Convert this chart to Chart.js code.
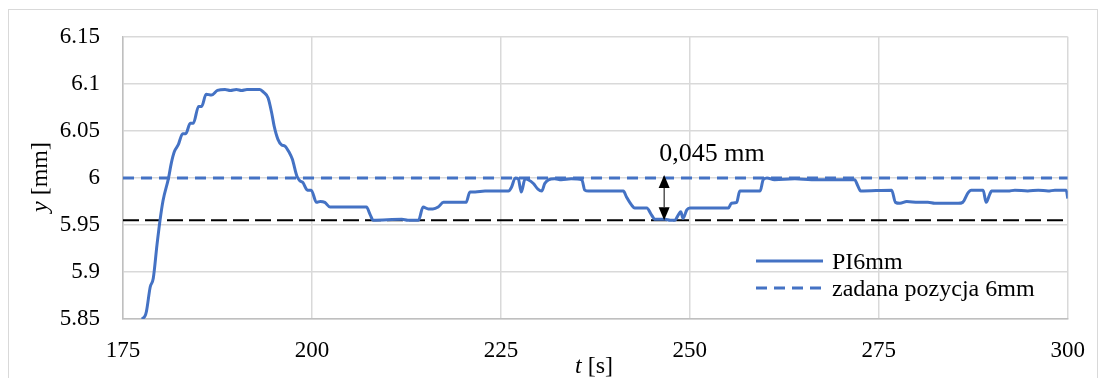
<!DOCTYPE html>
<html>
<head>
<meta charset="utf-8">
<script src="https://cdn.jsdelivr.net/npm/chart.js@4/dist/chart.umd.min.js"></script>
<style>
  html, body { margin: 0; padding: 0; background: #fff; }
</style>
</head>
<body>
<canvas id="chart" width="1103" height="378"></canvas>
<script>
// czas [s] i położenie [mm] regulatora PI
const tValues = [
  177.5, 177.9, 178.1, 178.6, 179.0, 179.5, 179.9, 180.3, 181.0, 181.4,
  181.8, 182.3, 182.9, 183.3, 183.9, 184.3, 185.0, 185.4, 186.0, 186.7,
  187.5, 188.5, 189.2, 190.0, 190.7, 191.4, 193.1, 193.6, 194.2, 194.7,
  195.0, 195.5, 196.0, 196.4, 197.0, 197.4, 198.0, 198.4, 198.8, 199.4,
  199.9, 200.6, 201.1, 201.7, 202.4, 207.2, 207.7, 208.1, 211.9, 212.7,
  214.1, 214.7, 215.4, 216.0, 216.7, 217.4, 220.4, 220.9, 221.6, 222.9,
  225.5, 226.0, 226.4, 226.9, 227.3, 227.7, 228.2, 228.6, 229.3, 229.9,
  230.4, 230.8, 231.3, 232.1, 233.0, 234.3, 235.7, 236.1, 236.6, 239.2,
  241.2, 241.6, 242.3, 242.7, 244.3, 244.9, 245.4, 246.7, 247.4, 248.0,
  248.5, 248.8, 249.1, 249.6, 250.0, 255.1, 255.5, 256.2, 256.6, 259.3,
  259.7, 260.2, 261.2, 263.9, 266.1, 268.7, 271.8, 272.2, 272.6, 276.7,
  277.2, 277.8, 278.7, 280.2, 281.5, 282.4, 285.5, 286.1, 286.8, 287.2,
  288.8, 289.2, 289.7, 289.9, 292.1, 293.0, 294.7, 296.1, 297.4, 298.3,
  299.8, 300.0
];
const pi6mm = [
  5.850, 5.853, 5.858, 5.884, 5.893, 5.929, 5.955, 5.976, 5.999, 6.016,
  6.028, 6.035, 6.047, 6.047, 6.058, 6.058, 6.076, 6.076, 6.089, 6.088,
  6.093, 6.094, 6.093, 6.094, 6.093, 6.094, 6.094, 6.091, 6.085, 6.068,
  6.055, 6.041, 6.035, 6.034, 6.027, 6.020, 6.002, 5.997, 5.995, 5.987,
  5.987, 5.974, 5.975, 5.974, 5.969, 5.969, 5.961, 5.955, 5.956, 5.955,
  5.955, 5.969, 5.967, 5.967, 5.969, 5.974, 5.974, 5.985, 5.985, 5.986,
  5.986, 5.986, 5.990, 6.000, 5.999, 5.985, 5.999, 5.998, 5.994, 5.988,
  5.986, 5.994, 5.998, 5.999, 5.998, 5.999, 5.998, 5.987, 5.986, 5.986,
  5.986, 5.980, 5.971, 5.968, 5.968, 5.961, 5.956, 5.956, 5.955, 5.955,
  5.961, 5.964, 5.957, 5.966, 5.968, 5.968, 5.973, 5.974, 5.986, 5.986,
  5.998, 6.000, 5.998, 5.999, 5.998, 5.998, 5.998, 5.992, 5.986, 5.987,
  5.974, 5.973, 5.975, 5.974, 5.974, 5.973, 5.973, 5.974, 5.984, 5.987,
  5.987, 5.974, 5.983, 5.986, 5.986, 5.987, 5.986, 5.987, 5.986, 5.987,
  5.987, 5.978
];

const setpoint = 6.0;        // zadana pozycja [mm]
const lowerLevel = 5.955;    // najniższe położenie po ustaleniu
const overshootAt = 246.6;   // gdzie zaznaczona różnica
const overshootLabel = '0,045 mm';

const xTicks = [175, 200, 225, 250, 275, 300];
const yTicks = [5.85, 5.9, 5.95, 6.0, 6.05, 6.1, 6.15];

const FONT = 'Liberation Serif';
const BLUE = '#4472c4';

const points = tValues.map((t, i) => ({ x: t, y: pi6mm[i] }));

const decor = {
  id: 'decor',
  beforeDraw(chart) {
    const ctx = chart.ctx;
    ctx.save();
    ctx.fillStyle = '#fff';
    ctx.fillRect(0, 0, chart.width, chart.height);
    ctx.strokeStyle = '#d9d9d9';
    ctx.lineWidth = 1;
    ctx.strokeRect(8.5, 9.5, 1089, 400);
    ctx.restore();
  },
  afterDatasetsDraw(chart) {
    const ctx = chart.ctx;
    const xs = chart.scales.x, ys = chart.scales.y;
    const ax = xs.getPixelForValue(overshootAt);
    const top = ys.getPixelForValue(setpoint) - 3;
    const bot = ys.getPixelForValue(lowerLevel);
    const hw = 5.5, hh = 13;
    ctx.save();
    ctx.strokeStyle = '#000';
    ctx.fillStyle = '#000';
    ctx.lineWidth = 1;
    ctx.beginPath();
    ctx.moveTo(ax, top + hh);
    ctx.lineTo(ax, bot - hh);
    ctx.stroke();
    ctx.beginPath();
    ctx.moveTo(ax, top);
    ctx.lineTo(ax - hw, top + hh);
    ctx.lineTo(ax + hw, top + hh);
    ctx.closePath();
    ctx.fill();
    ctx.beginPath();
    ctx.moveTo(ax, bot);
    ctx.lineTo(ax - hw, bot - hh);
    ctx.lineTo(ax + hw, bot - hh);
    ctx.closePath();
    ctx.fill();
    ctx.font = '26px "' + FONT + '"';
    ctx.textAlign = 'left';
    ctx.textBaseline = 'alphabetic';
    ctx.fillText(overshootLabel, ax - 5, top - 14);
    ctx.restore();
  },
  afterDraw(chart) {
    const ctx = chart.ctx;
    ctx.save();
    ctx.fillStyle = '#000';
    ctx.textBaseline = 'alphabetic';

    // legenda (bez linii pomocniczej)
    const items = chart.data.datasets.filter(d => !d.hideInLegend);
    items.forEach((d, i) => {
      const y = 261 + i * 27;
      ctx.strokeStyle = d.borderColor;
      ctx.lineWidth = d.borderWidth;
      ctx.setLineDash(d.borderDash || []);
      ctx.beginPath();
      ctx.moveTo(756, y);
      ctx.lineTo(823, y);
      ctx.stroke();
      ctx.setLineDash([]);
      ctx.font = '24px "' + FONT + '"';
      ctx.textAlign = 'left';
      ctx.fillText(d.label, 832, y + 8);
    });

    // opisy osi: zmienna kursywą, jednostka prosto
    const drawTitle = (italic, rest, cx, cy, rot) => {
      ctx.save();
      ctx.translate(cx, cy);
      ctx.rotate(rot);
      ctx.font = 'italic 24px "' + FONT + '"';
      const w1 = ctx.measureText(italic).width;
      ctx.font = '24px "' + FONT + '"';
      const w2 = ctx.measureText(rest).width;
      const x = -(w1 + w2) / 2;
      ctx.textAlign = 'left';
      ctx.font = 'italic 24px "' + FONT + '"';
      ctx.fillText(italic, x, 0);
      ctx.font = '24px "' + FONT + '"';
      ctx.fillText(rest, x + w1, 0);
      ctx.restore();
    };
    drawTitle('y', ' [mm]', 47, 177, -Math.PI / 2);
    drawTitle('t', ' [s]', 594, 373, 0);
    ctx.restore();
  }
};

new Chart(document.getElementById('chart'), {
  type: 'line',
  data: {
    datasets: [
      {
        label: 'PI6mm',
        data: points,
        borderColor: BLUE,
        borderWidth: 3,
        pointRadius: 0,
        cubicInterpolationMode: 'monotone',
        order: 1
      },
      {
        label: 'zadana pozycja 6mm',
        data: [{ x: xTicks[0], y: setpoint }, { x: xTicks[xTicks.length - 1], y: setpoint }],
        borderColor: BLUE,
        borderWidth: 3,
        borderDash: [11, 7],
        pointRadius: 0,
        order: 2
      },
      {
        label: 'poziom dolny',
        hideInLegend: true,
        data: [{ x: xTicks[0], y: lowerLevel }, { x: xTicks[xTicks.length - 1], y: lowerLevel }],
        borderColor: '#000',
        borderWidth: 2,
        borderDash: [16, 6],
        pointRadius: 0,
        order: 3
      }
    ]
  },
  options: {
    responsive: false,
    animation: false,
    layout: { padding: { top: 32, right: 35, left: 0, bottom: 0 } },
    plugins: { legend: { display: false }, tooltip: { enabled: false } },
    scales: {
      x: {
        type: 'linear',
        min: xTicks[0],
        max: xTicks[xTicks.length - 1],
        afterBuildTicks: s => { s.ticks = xTicks.map(v => ({ value: v })); },
        afterFit: s => { s.height = 59; },
        grid: { color: '#d9d9d9', lineWidth: 1.5, drawTicks: false },
        border: { color: '#bfbfbf', width: 1.5 },
        ticks: { padding: 18, color: '#000', font: { family: FONT, size: 23 } }
      },
      y: {
        type: 'linear',
        min: yTicks[0],
        max: yTicks[yTicks.length - 1],
        afterBuildTicks: s => { s.ticks = yTicks.map(v => ({ value: v })); },
        afterFit: s => { s.width = 123; },
        grid: { color: '#d9d9d9', lineWidth: 1.5, drawTicks: false },
        border: { color: '#bfbfbf', width: 1.5 },
        ticks: {
          padding: 23,
          color: '#000',
          font: { family: FONT, size: 23 },
          callback: v => String(parseFloat(v.toFixed(2)))
        }
      }
    }
  },
  plugins: [decor]
});
</script>
</body>
</html>
